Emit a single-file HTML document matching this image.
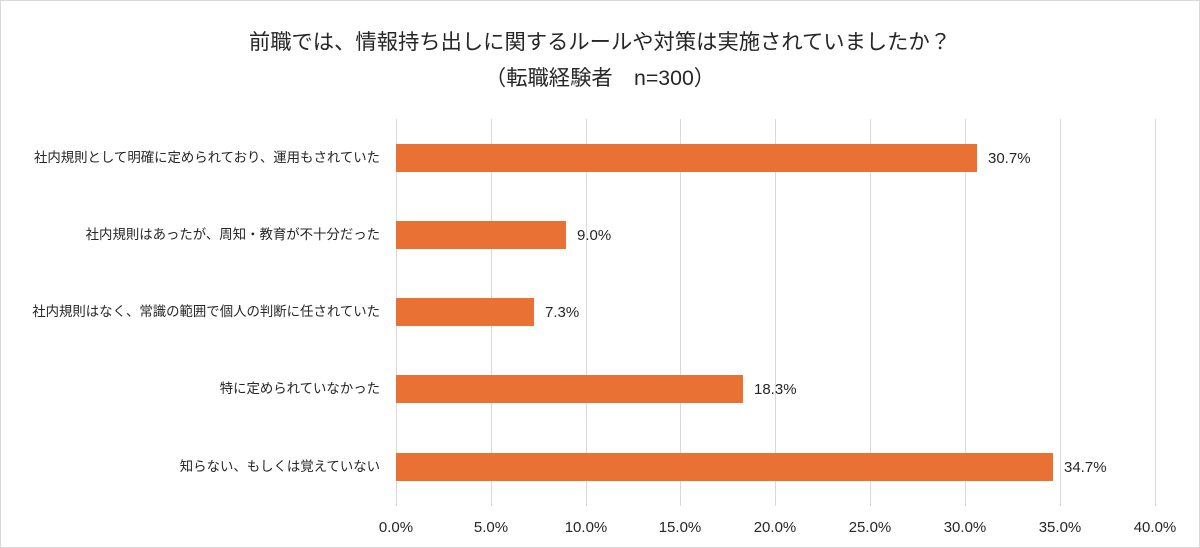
<!DOCTYPE html>
<html><head><meta charset="utf-8"><style>
body{margin:0;background:#fff}
#c{position:relative;width:1198px;height:546px;border:1px solid #d9d9d9;font-family:"Liberation Sans","Noto Sans CJK JP",sans-serif;color:#262626;overflow:hidden}
.t{position:absolute;left:0;width:1198px;text-align:center;font-size:21.3px;line-height:24px;white-space:nowrap}
.g{position:absolute;top:118px;height:387px;width:1px;background:#d9d9d9}
.b{position:absolute;left:395px;height:28px;background:#ea7134}
.l{position:absolute;right:819px;font-size:13.4px;line-height:16px;white-space:nowrap;text-align:right}
.v{position:absolute;font-size:15px;line-height:16px}
.x{position:absolute;top:519px;font-size:15px;line-height:16px;width:80px;text-align:center}
</style></head><body><div id="c">
<div class="t" style="top:29px">前職では、情報持ち出しに関するルールや対策は実施されていましたか？</div>
<div class="t" style="top:65px">（転職経験者　n=300）</div>
<div class="g" style="left:395px"></div><div class="g" style="left:490px"></div><div class="g" style="left:585px"></div><div class="g" style="left:679px"></div><div class="g" style="left:774px"></div><div class="g" style="left:869px"></div><div class="g" style="left:964px"></div><div class="g" style="left:1059px"></div><div class="g" style="left:1154px"></div>
<div class="b" style="top:143px;width:581px"></div><div class="v" style="left:987px;top:150px">30.7%</div>
<div class="b" style="top:220px;width:170px"></div><div class="v" style="left:576px;top:227px">9.0%</div>
<div class="b" style="top:297px;width:138px"></div><div class="v" style="left:544px;top:304px">7.3%</div>
<div class="b" style="top:374px;width:347px"></div><div class="v" style="left:753px;top:381px">18.3%</div>
<div class="b" style="top:452px;width:657px"></div><div class="v" style="left:1063px;top:459px">34.7%</div>
<div class="l" style="top:149px">社内規則として明確に定められており、運用もされていた</div>
<div class="l" style="top:226px">社内規則はあったが、周知・教育が不十分だった</div>
<div class="l" style="top:303px">社内規則はなく、常識の範囲で個人の判断に任されていた</div>
<div class="l" style="top:380px">特に定められていなかった</div>
<div class="l" style="top:458px">知らない、もしくは覚えていない</div>
<div class="x" style="left:355px">0.0%</div><div class="x" style="left:450px">5.0%</div><div class="x" style="left:545px">10.0%</div><div class="x" style="left:639px">15.0%</div><div class="x" style="left:734px">20.0%</div><div class="x" style="left:829px">25.0%</div><div class="x" style="left:924px">30.0%</div><div class="x" style="left:1019px">35.0%</div><div class="x" style="left:1114px">40.0%</div>
</div></body></html>
